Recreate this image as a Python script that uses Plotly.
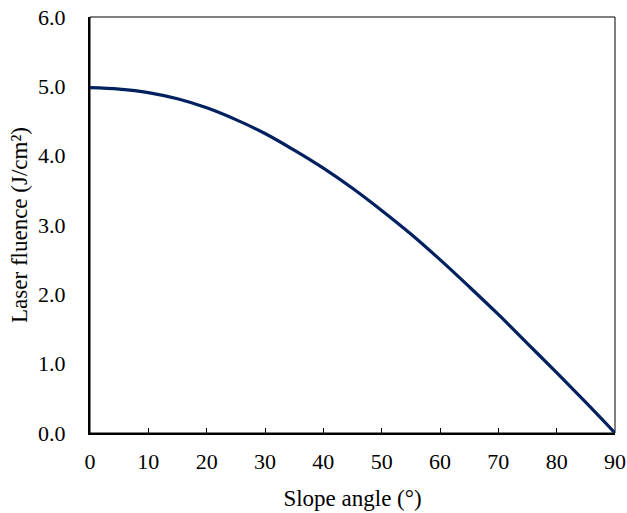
import plotly.graph_objects as go

slope_angle = [0, 5, 10, 15, 20, 25, 30, 35, 40, 45, 50, 55, 60, 65, 70, 75, 80, 85, 90]
laser_fluence = [4.98, 4.96, 4.91, 4.82, 4.69, 4.52, 4.32, 4.08, 3.82, 3.53, 3.21, 2.87, 2.50, 2.11, 1.71, 1.29, 0.87, 0.44, 0.0]

x_ticks = [0, 10, 20, 30, 40, 50, 60, 70, 80, 90]
y_ticks = [0, 1, 2, 3, 4, 5, 6]
y_tick_labels = ["0.0", "1.0", "2.0", "3.0", "4.0", "5.0", "6.0"]

family = "Liberation Serif, Times New Roman, serif"
tick_font = dict(family=family, size=22, color="black")
title_font = dict(family=family, size=23, color="black")

fig = go.Figure()
fig.add_trace(go.Scatter(x=slope_angle, y=laser_fluence, mode="lines",
                         line=dict(color="#002060", width=3.2, shape="spline"),
                         showlegend=False))

fig.update_layout(
    width=627, height=513,
    margin=dict(l=90, r=12, t=17, b=80, autoexpand=False),
    paper_bgcolor="white", plot_bgcolor="white",
    font=tick_font,
    xaxis=dict(range=[0, 90], tickvals=x_ticks, ticks="inside", ticklen=5,
               tickwidth=1, tickcolor="black", showline=True, linewidth=2,
               linecolor="black", showgrid=False, zeroline=False, automargin=False,
               tickfont=tick_font, ticklabelstandoff=8,
               title=dict(text="Slope angle (°)", font=title_font, standoff=16)),
    yaxis=dict(range=[0, 6], tickvals=y_ticks, ticktext=y_tick_labels, ticks="",
               showline=True, linewidth=2, linecolor="black", showgrid=False,
               zeroline=False, ticklabelstandoff=18, automargin=False,
               tickfont=tick_font,
               title=dict(text="Laser fluence (J/cm²)", font=title_font, standoff=4)),
    shapes=[dict(type="rect", xref="paper", yref="paper", x0=0, y0=0, x1=1, y1=1,
                 line=dict(color="black", width=1), layer="below")],
)

fig.write_html("out.html", config={"displayModeBar": False},
               post_script="document.body.style.margin='0';document.body.style.overflow='hidden';")
